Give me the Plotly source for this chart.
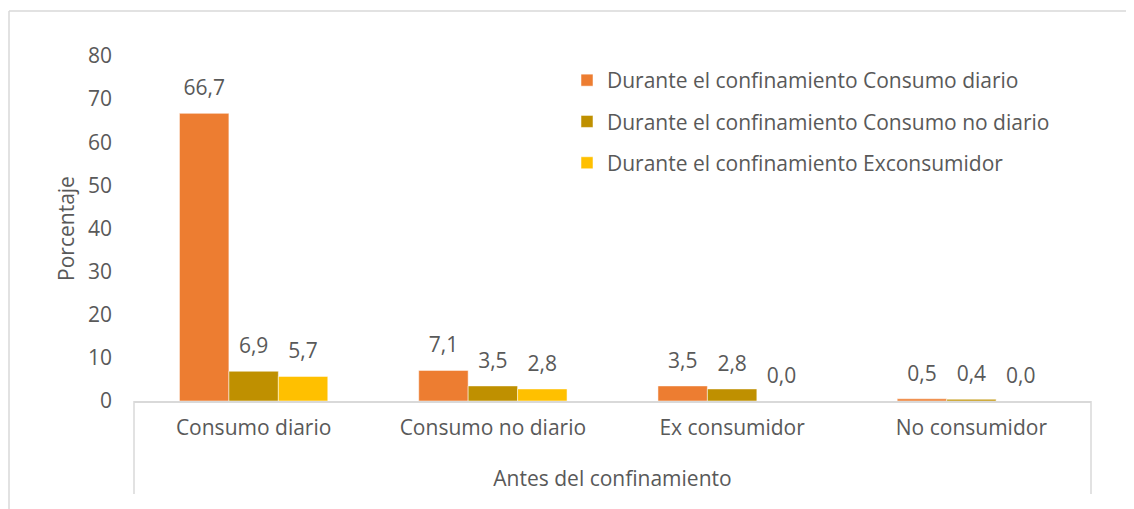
import plotly.graph_objects as go

categories = ["Consumo diario", "Consumo no diario", "Ex consumidor", "No consumidor"]
series_names = [
    "Durante el confinamiento Consumo diario",
    "Durante el confinamiento Consumo no diario",
    "Durante el confinamiento Exconsumidor",
]
diario = [66.7, 7.1, 3.5, 0.5]
no_diario = [6.9, 3.5, 2.8, 0.4]
exconsumidor = [5.7, 2.8, 0.0, 0.0]
y_ticks = [0, 10, 20, 30, 40, 50, 60, 70, 80]

colors = ["#ED7D31", "#BF9000", "#FFC000"]
values = [diario, no_diario, exconsumidor]
FONT = "Open Sans"
FS = 21
TXT = "#595959"

fig = go.Figure()
for i, (name, vals, col) in enumerate(zip(series_names, values, colors)):
    fig.add_trace(go.Bar(
        x=categories, y=vals, name=name,
        marker=dict(color=col, line=dict(color="rgba(255,255,255,0.5)", width=1)),
        offsetgroup=str(i), legendgroup=str(i),
    ))
for i, vals in enumerate(values):
    fig.add_trace(go.Scatter(
        x=categories, y=vals, mode="markers+text",
        text=[f"{v:.1f}".replace(".", ",") for v in vals],
        textposition="top center",
        textfont=dict(family=FONT, size=FS, color=TXT),
        marker=dict(size=19, color="rgba(0,0,0,0)"),
        offsetgroup=str(i), showlegend=False, hoverinfo="skip",
        cliponaxis=False,
    ))

# page has an 8px body margin; work in page pixel coordinates
OFF = 8
W, H = 1134 - OFF, 509 - OFF
PL, PR, PT, PB = 134, 1091, 56, 401  # plot area in page px
L, R, T, B = PL - OFF, W - (PR - OFF), PT - OFF, H - (PB - OFF)
pw, ph = PR - PL, PB - PT

def px2x(p):
    return (p - PL) / pw

def py2y(p):
    return (PB - p) / ph

line = dict(color="#D9D9D9", width=1.5)
shapes = [
    dict(type="line", xref="paper", yref="paper", x0=0, x1=0, y0=0, y1=py2y(494), line=line),
    dict(type="line", xref="paper", yref="paper", x0=1, x1=1, y0=0, y1=py2y(494), line=line),
    dict(type="line", xref="paper", yref="paper", x0=px2x(9), x1=px2x(1140), y0=py2y(11), y1=py2y(11), line=line),
    dict(type="line", xref="paper", yref="paper", x0=px2x(9), x1=px2x(9), y0=py2y(11), y1=py2y(515), line=line),
]

fig.update_layout(
    width=W, height=H,
    margin=dict(l=L, r=R, t=T, b=B, autoexpand=False),
    paper_bgcolor="white", plot_bgcolor="white",
    barmode="group", bargap=0.38, bargroupgap=0,
    scattermode="group", scattergap=0.38,
    font=dict(family=FONT, size=FS, color=TXT),
    shapes=shapes,
    legend=dict(
        x=px2x(567), xanchor="left", y=py2y(60), yanchor="top",
        font=dict(family=FONT, size=FS, color=TXT),
        tracegroupgap=11, bgcolor="rgba(0,0,0,0)",
    ),
    xaxis=dict(
        showline=True, linecolor="#D9D9D9", linewidth=1.5,
        showgrid=False, ticks="", ticklabelstandoff=7, automargin=False,
        tickfont=dict(family=FONT, size=FS, color=TXT),
        title=dict(text="Antes del confinamiento", standoff=31,
                   font=dict(family=FONT, size=FS, color=TXT)),
    ),
    yaxis=dict(
        range=[0, 80], tickvals=y_ticks, showgrid=False, zeroline=False,
        showline=False, ticks="", ticklabelstandoff=21, automargin=False,
        tickfont=dict(family=FONT, size=FS, color=TXT),
        title=dict(text="Porcentaje", standoff=7,
                   font=dict(family=FONT, size=FS, color=TXT)),
    ),
)

fig.write_html("out.html")
